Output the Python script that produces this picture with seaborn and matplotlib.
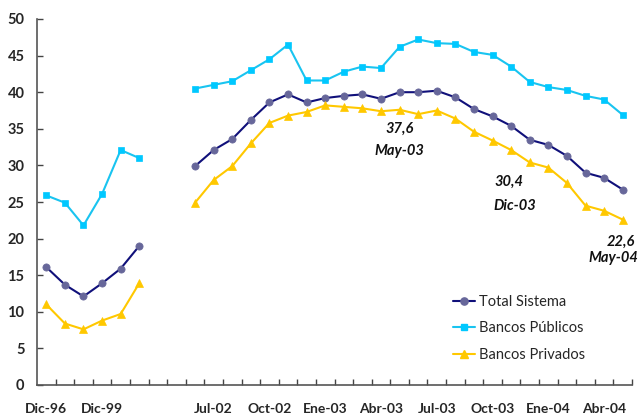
import numpy as np
import pandas as pd
import matplotlib
matplotlib.use("Agg")
import matplotlib.pyplot as plt
import seaborn as sns
from matplotlib.lines import Line2D

categories = ["Dic-96", "Dic-97", "Dic-98", "Dic-99", "Dic-00", "Dic-01", "", "",
              "Jun-02", "Jul-02", "Ago-02", "Sep-02", "Oct-02", "Nov-02", "Dic-02",
              "Ene-03", "Feb-03", "Mar-03", "Abr-03", "May-03", "Jun-03", "Jul-03",
              "Ago-03", "Sep-03", "Oct-03", "Nov-03", "Dic-03", "Ene-04", "Feb-04",
              "Mar-04", "Abr-04", "May-04"]

total_sistema = [16.1, 13.7, 12.1, 13.9, 15.9, 19.0, None, None,
                 29.9, 32.1, 33.6, 36.2, 38.6, 39.7, 38.6, 39.2, 39.5, 39.7, 39.1, 40.0,
                 40.0, 40.2, 39.3, 37.7, 36.7, 35.4, 33.5, 32.8, 31.3, 29.0, 28.3, 26.7]
bancos_publicos = [25.9, 24.9, 21.8, 26.1, 32.1, 31.0, None, None,
                   40.5, 41.0, 41.5, 43.0, 44.5, 46.5, 41.6, 41.6, 42.8, 43.5, 43.3, 46.2,
                   47.2, 46.7, 46.6, 45.5, 45.1, 43.5, 41.4, 40.7, 40.3, 39.5, 39.0, 36.9]
bancos_privados = [11.0, 8.4, 7.6, 8.8, 9.7, 13.9, None, None,
                   24.9, 28.0, 29.9, 33.0, 35.8, 36.8, 37.3, 38.2, 38.0, 37.8, 37.4, 37.6,
                   37.0, 37.5, 36.4, 34.6, 33.4, 32.1, 30.4, 29.7, 27.6, 24.5, 23.8, 22.6]

series_names = ["Total Sistema", "Bancos Públicos", "Bancos Privados"]
annot_text = ["37,6", "May-03", "30,4", "Dic-03", "22,6", "May-04"]

sns.set_theme(style="white")
plt.rcParams['font.family'] = ['Lato', 'DejaVu Sans']

fig = plt.figure(figsize=(6.44, 4.16), dpi=100)
ax = fig.add_axes([37/644, 1-385/416, (632-37)/644, (385-19)/416])

rows = []
for name, vals in zip(series_names, [total_sistema, bancos_publicos, bancos_privados]):
    for i, v in enumerate(vals):
        if v is None:
            continue
        rows.append(dict(serie=name, x=i, valor=v, tramo=0 if i < 6 else 1))
df = pd.DataFrame(rows)

styles = {
    "Total Sistema": dict(line="#10107a", mfc="#67679a", marker="o", ms=5.2),
    "Bancos Públicos": dict(line="#19c4f0", mfc="#00c8ff", marker="s", ms=5.0),
    "Bancos Privados": dict(line="#ffc800", mfc="#ffc800", marker="^", ms=5.6),
}

for name in series_names:
    st = styles[name]
    sns.lineplot(data=df[df.serie == name], x="x", y="valor", units="tramo",
                 estimator=None, color=st["line"], marker=st["marker"],
                 markersize=st["ms"], markerfacecolor=st["mfc"],
                 markeredgecolor=st["mfc"], markeredgewidth=0.5,
                 linewidth=1.5, ax=ax, legend=False, sort=True)

ax.set_xlim(-0.5, 31.5)
ax.set_ylim(0, 50)
ax.set_xlabel("")
ax.set_ylabel("")

label_pos = list(range(0, 32, 3))
ax.set_xticks(label_pos)
ax.set_xticklabels([categories[i] for i in label_pos], fontsize=10, fontweight="bold")
ax.set_xticks(np.arange(0.5, 32, 1), minor=True)
ax.tick_params(axis="x", which="major", length=0, pad=13)
ax.tick_params(axis="x", which="minor", direction="in", length=4, width=1, color="#444444", bottom=True)
ax.set_yticks(np.arange(0, 51, 5))
ax.set_yticklabels([str(v) for v in range(0, 51, 5)], fontsize=10.5, fontweight="bold")
ax.tick_params(axis="y", direction="in", length=4, width=1, color="#444444", left=True, pad=9)

for s in ["top", "right"]:
    ax.spines[s].set_visible(False)
for s in ["left", "bottom"]:
    ax.spines[s].set_color("#555555")
    ax.spines[s].set_linewidth(1.2)

ann_pos = [(19.0, 35.0), (19.0, 32.0), (24.9, 27.8), (25.2, 24.5), (30.9, 19.6), (30.5, 17.3)]
for t, (x, y) in zip(annot_text, ann_pos):
    ax.text(x, y, t, ha="center", va="center", fontsize=10.5, fontweight="bold",
            fontstyle="italic", color="#111111")

handles = [Line2D([0], [0], color=styles[n]["line"], marker=styles[n]["marker"],
                  markersize=styles[n]["ms"], markerfacecolor=styles[n]["mfc"],
                  markeredgecolor=styles[n]["mfc"], linewidth=1.5) for n in series_names]
fig.legend(handles, series_names, loc="upper left", bbox_to_anchor=(453/644, 1-295/416),
           frameon=False, fontsize=10.5, labelspacing=0.85, handlelength=1.5,
           handletextpad=0.3, borderpad=0, borderaxespad=0)

fig.savefig("out.png", dpi=100)
